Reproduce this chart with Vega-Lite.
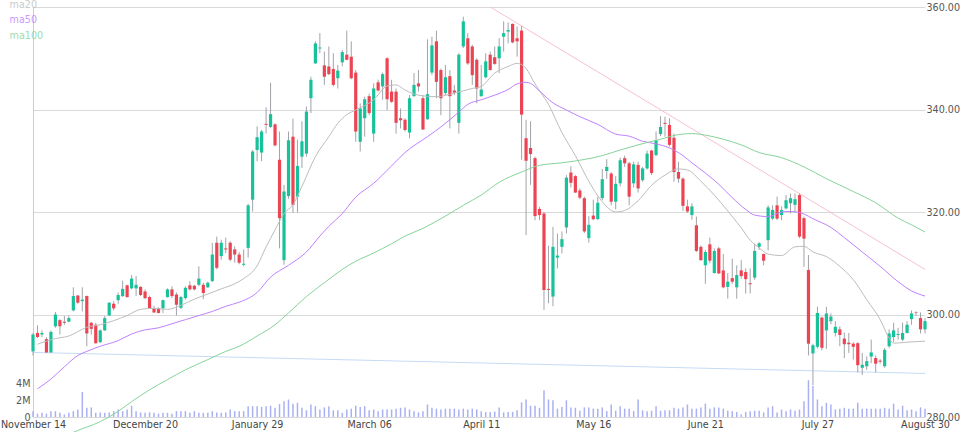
{
"$schema":"https://vega.github.io/schema/vega-lite/v6.json",
"width":892,"height":410,
"autosize":{"type":"none"},
"padding":{"left":33,"top":7,"right":35,"bottom":15},
"background":"white",
"config":{"view":{"stroke":null},"axis":{"labelFont":"DejaVu Sans","labelFontSize":9.6,"labelColor":"#555555"},"legend":{"labelFont":"DejaVu Sans"}},
"datasets":{
"k":[
{"d":"2017-11-14","o":292.8,"h":296.4,"l":292.0,"c":296.1,"v":680000},
{"d":"2017-11-15","o":296.4,"h":297.9,"l":295.4,"c":295.6,"v":400000},
{"d":"2017-11-16","o":296.1,"h":296.9,"l":295.6,"c":296.4,"v":500000},
{"d":"2017-11-17","o":295.2,"h":295.6,"l":292.5,"c":292.6,"v":400000},
{"d":"2017-11-20","o":292.6,"h":296.9,"l":292.5,"c":296.6,"v":700000},
{"d":"2017-11-21","o":297.7,"h":300.5,"l":297.4,"c":300.0,"v":700000},
{"d":"2017-11-22","o":298.9,"h":299.1,"l":296.1,"c":297.7,"v":500000},
{"d":"2017-11-24","o":298.6,"h":299.7,"l":298.0,"c":298.4,"v":300000},
{"d":"2017-11-27","o":298.6,"h":299.8,"l":298.5,"c":299.3,"v":500000},
{"d":"2017-11-28","o":300.8,"h":305.3,"l":300.6,"c":303.6,"v":700000},
{"d":"2017-11-29","o":303.7,"h":303.8,"l":302.1,"c":302.3,"v":900000},
{"d":"2017-11-30","o":302.6,"h":305.3,"l":300.6,"c":302.9,"v":3000000},
{"d":"2017-12-01","o":303.6,"h":303.7,"l":293.8,"c":296.3,"v":1100000},
{"d":"2017-12-04","o":298.4,"h":298.5,"l":296.1,"c":297.2,"v":1150000},
{"d":"2017-12-05","o":298.0,"h":298.4,"l":294.3,"c":294.4,"v":500000},
{"d":"2017-12-06","o":294.6,"h":297.1,"l":294.4,"c":296.9,"v":550000},
{"d":"2017-12-07","o":296.9,"h":299.7,"l":296.8,"c":299.3,"v":500000},
{"d":"2017-12-08","o":299.8,"h":302.4,"l":299.7,"c":302.3,"v":550000},
{"d":"2017-12-11","o":302.1,"h":302.6,"l":300.8,"c":301.2,"v":700000},
{"d":"2017-12-12","o":302.8,"h":304.3,"l":302.1,"c":303.8,"v":900000},
{"d":"2017-12-13","o":303.6,"h":306.6,"l":303.4,"c":305.0,"v":700000},
{"d":"2017-12-14","o":305.7,"h":305.8,"l":303.3,"c":303.4,"v":900000},
{"d":"2017-12-15","o":305.1,"h":307.7,"l":304.9,"c":307.0,"v":1350000},
{"d":"2017-12-18","o":305.1,"h":307.5,"l":303.6,"c":305.8,"v":700000},
{"d":"2017-12-19","o":305.4,"h":305.5,"l":303.6,"c":303.8,"v":550000},
{"d":"2017-12-20","o":304.5,"h":304.9,"l":303.0,"c":303.2,"v":500000},
{"d":"2017-12-21","o":303.4,"h":303.7,"l":301.1,"c":301.2,"v":550000},
{"d":"2017-12-22","o":301.2,"h":301.7,"l":300.3,"c":300.4,"v":500000},
{"d":"2017-12-26","o":301.2,"h":301.4,"l":300.2,"c":300.3,"v":400000},
{"d":"2017-12-27","o":301.2,"h":302.9,"l":300.3,"c":302.8,"v":500000},
{"d":"2017-12-28","o":303.4,"h":305.1,"l":303.3,"c":304.9,"v":500000},
{"d":"2017-12-29","o":304.9,"h":305.5,"l":303.2,"c":303.6,"v":400000},
{"d":"2018-01-02","o":303.9,"h":304.3,"l":299.8,"c":301.9,"v":700000},
{"d":"2018-01-03","o":301.3,"h":303.6,"l":301.1,"c":303.4,"v":700000},
{"d":"2018-01-04","o":303.2,"h":305.5,"l":302.9,"c":305.2,"v":700000},
{"d":"2018-01-05","o":305.7,"h":306.5,"l":304.7,"c":304.9,"v":500000},
{"d":"2018-01-08","o":305.6,"h":305.8,"l":304.7,"c":304.9,"v":700000},
{"d":"2018-01-09","o":305.8,"h":309.4,"l":305.5,"c":307.0,"v":500000},
{"d":"2018-01-10","o":305.8,"h":306.2,"l":303.0,"c":304.2,"v":500000},
{"d":"2018-01-11","o":305.3,"h":306.4,"l":305.2,"c":306.2,"v":500000},
{"d":"2018-01-12","o":306.5,"h":314.0,"l":306.4,"c":311.7,"v":700000},
{"d":"2018-01-16","o":314.0,"h":315.2,"l":308.8,"c":309.1,"v":550000},
{"d":"2018-01-17","o":311.4,"h":314.6,"l":310.7,"c":314.0,"v":500000},
{"d":"2018-01-18","o":312.9,"h":315.0,"l":312.0,"c":312.7,"v":550000},
{"d":"2018-01-19","o":314.0,"h":314.3,"l":310.4,"c":310.7,"v":900000},
{"d":"2018-01-22","o":312.7,"h":313.3,"l":310.1,"c":311.7,"v":700000},
{"d":"2018-01-23","o":311.7,"h":312.2,"l":309.8,"c":310.1,"v":700000},
{"d":"2018-01-24","o":309.7,"h":312.7,"l":309.4,"c":309.9,"v":700000},
{"d":"2018-01-25","o":313.0,"h":321.6,"l":311.1,"c":321.3,"v":1300000},
{"d":"2018-01-26","o":322.4,"h":332.1,"l":320.1,"c":331.8,"v":1300000},
{"d":"2018-01-29","o":332.1,"h":336.7,"l":329.9,"c":334.6,"v":1300000},
{"d":"2018-01-30","o":331.6,"h":336.0,"l":329.9,"c":335.7,"v":1200000},
{"d":"2018-01-31","o":337.2,"h":340.4,"l":335.3,"c":337.0,"v":1300000},
{"d":"2018-02-01","o":336.6,"h":345.2,"l":336.4,"c":339.1,"v":1350000},
{"d":"2018-02-02","o":337.1,"h":337.3,"l":332.8,"c":333.0,"v":1100000},
{"d":"2018-02-05","o":330.2,"h":335.7,"l":312.9,"c":318.8,"v":1550000},
{"d":"2018-02-06","o":310.6,"h":325.3,"l":309.7,"c":324.0,"v":1900000},
{"d":"2018-02-07","o":323.1,"h":335.7,"l":322.6,"c":334.0,"v":2100000},
{"d":"2018-02-08","o":334.7,"h":338.2,"l":319.8,"c":321.4,"v":1600000},
{"d":"2018-02-09","o":323.0,"h":334.1,"l":319.9,"c":329.0,"v":1700000},
{"d":"2018-02-12","o":330.8,"h":337.7,"l":328.6,"c":333.8,"v":1100000},
{"d":"2018-02-13","o":331.4,"h":340.6,"l":330.8,"c":339.6,"v":800000},
{"d":"2018-02-14","o":342.2,"h":346.4,"l":339.3,"c":345.8,"v":1500000},
{"d":"2018-02-15","o":349.0,"h":353.3,"l":348.9,"c":352.9,"v":1300000},
{"d":"2018-02-16","o":351.9,"h":354.9,"l":351.0,"c":352.1,"v":900000},
{"d":"2018-02-20","o":348.6,"h":351.3,"l":344.8,"c":346.4,"v":1150000},
{"d":"2018-02-21","o":348.4,"h":352.3,"l":346.7,"c":346.9,"v":1300000},
{"d":"2018-02-22","o":347.9,"h":351.0,"l":344.5,"c":344.8,"v":800000},
{"d":"2018-02-23","o":346.1,"h":348.7,"l":344.1,"c":347.6,"v":800000},
{"d":"2018-02-26","o":349.2,"h":351.6,"l":348.4,"c":351.2,"v":500000},
{"d":"2018-02-27","o":350.7,"h":355.4,"l":349.6,"c":349.7,"v":900000},
{"d":"2018-02-28","o":350.3,"h":353.3,"l":345.9,"c":346.1,"v":1000000},
{"d":"2018-03-01","o":347.2,"h":347.7,"l":333.7,"c":335.7,"v":1350000},
{"d":"2018-03-02","o":333.7,"h":341.2,"l":331.8,"c":340.2,"v":1200000},
{"d":"2018-03-05","o":338.3,"h":342.5,"l":334.7,"c":342.0,"v":1300000},
{"d":"2018-03-06","o":342.6,"h":343.1,"l":338.9,"c":339.3,"v":800000},
{"d":"2018-03-07","o":335.3,"h":345.1,"l":333.7,"c":344.1,"v":900000},
{"d":"2018-03-08","o":345.3,"h":345.8,"l":343.5,"c":343.7,"v":700000},
{"d":"2018-03-09","o":344.5,"h":347.2,"l":341.9,"c":346.9,"v":900000},
{"d":"2018-03-12","o":350.0,"h":350.2,"l":339.9,"c":342.0,"v":900000},
{"d":"2018-03-13","o":343.5,"h":345.8,"l":341.3,"c":341.5,"v":900000},
{"d":"2018-03-14","o":343.5,"h":344.1,"l":335.3,"c":337.4,"v":1000000},
{"d":"2018-03-15","o":338.3,"h":340.2,"l":336.3,"c":337.9,"v":1100000},
{"d":"2018-03-16","o":338.0,"h":338.3,"l":335.7,"c":336.0,"v":1150000},
{"d":"2018-03-19","o":335.5,"h":342.8,"l":334.4,"c":342.2,"v":900000},
{"d":"2018-03-20","o":342.6,"h":347.1,"l":342.5,"c":344.8,"v":700000},
{"d":"2018-03-21","o":345.1,"h":347.7,"l":343.5,"c":344.5,"v":550000},
{"d":"2018-03-22","o":342.2,"h":342.8,"l":336.0,"c":336.1,"v":700000},
{"d":"2018-03-23","o":338.1,"h":353.7,"l":338.0,"c":343.0,"v":1500000},
{"d":"2018-03-26","o":347.2,"h":354.2,"l":346.7,"c":352.5,"v":1100000},
{"d":"2018-03-27","o":353.3,"h":355.4,"l":342.2,"c":345.4,"v":1000000},
{"d":"2018-03-28","o":347.7,"h":348.0,"l":338.9,"c":342.2,"v":900000},
{"d":"2018-03-29","o":343.2,"h":348.7,"l":342.8,"c":346.3,"v":1000000},
{"d":"2018-04-02","o":346.5,"h":347.7,"l":336.3,"c":342.6,"v":1000000},
{"d":"2018-04-03","o":343.7,"h":344.8,"l":342.8,"c":343.3,"v":1000000},
{"d":"2018-04-04","o":337.4,"h":351.0,"l":335.3,"c":350.7,"v":900000},
{"d":"2018-04-05","o":352.3,"h":358.1,"l":352.0,"c":357.2,"v":1000000},
{"d":"2018-04-06","o":353.9,"h":354.9,"l":348.7,"c":349.0,"v":900000},
{"d":"2018-04-09","o":352.3,"h":352.6,"l":344.8,"c":346.7,"v":1000000},
{"d":"2018-04-10","o":349.7,"h":350.0,"l":341.2,"c":344.1,"v":900000},
{"d":"2018-04-11","o":342.6,"h":348.7,"l":342.5,"c":343.9,"v":700000},
{"d":"2018-04-12","o":346.3,"h":351.0,"l":346.1,"c":349.4,"v":600000},
{"d":"2018-04-13","o":350.7,"h":351.3,"l":347.6,"c":347.7,"v":600000},
{"d":"2018-04-16","o":350.2,"h":352.3,"l":348.7,"c":348.9,"v":650000},
{"d":"2018-04-17","o":350.0,"h":353.9,"l":347.1,"c":352.3,"v":1150000},
{"d":"2018-04-18","o":354.2,"h":357.2,"l":351.3,"c":354.9,"v":550000},
{"d":"2018-04-19","o":355.2,"h":357.0,"l":352.9,"c":355.5,"v":600000},
{"d":"2018-04-20","o":356.7,"h":356.8,"l":352.9,"c":353.1,"v":600000},
{"d":"2018-04-23","o":353.9,"h":356.2,"l":350.3,"c":353.3,"v":800000},
{"d":"2018-04-24","o":355.4,"h":356.3,"l":330.2,"c":339.0,"v":1750000},
{"d":"2018-04-25","o":334.4,"h":338.0,"l":315.5,"c":330.0,"v":2100000},
{"d":"2018-04-26","o":332.5,"h":337.7,"l":325.3,"c":331.3,"v":1350000},
{"d":"2018-04-27","o":330.5,"h":330.8,"l":318.4,"c":319.2,"v":1350000},
{"d":"2018-04-30","o":320.6,"h":321.0,"l":318.4,"c":319.4,"v":1100000},
{"d":"2018-05-01","o":319.7,"h":320.0,"l":300.9,"c":304.8,"v":3200000},
{"d":"2018-05-02","o":305.0,"h":313.4,"l":302.2,"c":304.8,"v":2100000},
{"d":"2018-05-03","o":303.5,"h":317.1,"l":301.6,"c":313.2,"v":2000000},
{"d":"2018-05-04","o":311.1,"h":315.8,"l":309.0,"c":311.5,"v":1000000},
{"d":"2018-05-07","o":313.2,"h":316.2,"l":311.9,"c":314.7,"v":1200000},
{"d":"2018-05-08","o":317.0,"h":327.2,"l":315.8,"c":326.7,"v":2000000},
{"d":"2018-05-09","o":327.7,"h":328.9,"l":324.8,"c":325.7,"v":1150000},
{"d":"2018-05-10","o":327.0,"h":327.2,"l":323.7,"c":323.8,"v":1100000},
{"d":"2018-05-11","o":324.2,"h":324.6,"l":322.5,"c":322.8,"v":750000},
{"d":"2018-05-14","o":322.7,"h":323.0,"l":315.9,"c":316.2,"v":1150000},
{"d":"2018-05-15","o":314.9,"h":319.2,"l":314.0,"c":317.5,"v":1150000},
{"d":"2018-05-16","o":319.3,"h":322.4,"l":318.4,"c":318.6,"v":1000000},
{"d":"2018-05-17","o":318.6,"h":323.0,"l":318.5,"c":321.8,"v":1000000},
{"d":"2018-05-18","o":322.7,"h":328.4,"l":322.3,"c":326.4,"v":1150000},
{"d":"2018-05-21","o":328.0,"h":330.3,"l":326.5,"c":328.8,"v":700000},
{"d":"2018-05-22","o":327.5,"h":327.8,"l":321.3,"c":322.0,"v":1500000},
{"d":"2018-05-23","o":322.0,"h":327.0,"l":320.5,"c":325.5,"v":750000},
{"d":"2018-05-24","o":325.6,"h":330.6,"l":325.0,"c":330.1,"v":1300000},
{"d":"2018-05-25","o":330.5,"h":331.0,"l":328.8,"c":329.5,"v":1000000},
{"d":"2018-05-29","o":329.5,"h":329.8,"l":321.3,"c":323.0,"v":1000000},
{"d":"2018-05-30","o":325.6,"h":329.8,"l":324.8,"c":329.3,"v":700000},
{"d":"2018-05-31","o":329.2,"h":329.8,"l":323.8,"c":324.6,"v":2100000},
{"d":"2018-06-01","o":326.2,"h":328.8,"l":325.9,"c":328.5,"v":800000},
{"d":"2018-06-04","o":328.5,"h":332.0,"l":328.3,"c":331.4,"v":700000},
{"d":"2018-06-05","o":332.0,"h":332.1,"l":327.2,"c":327.6,"v":750000},
{"d":"2018-06-06","o":331.1,"h":335.7,"l":330.9,"c":334.0,"v":1300000},
{"d":"2018-06-07","o":335.2,"h":338.7,"l":334.8,"c":336.6,"v":750000},
{"d":"2018-06-08","o":337.4,"h":338.6,"l":334.7,"c":337.2,"v":800000},
{"d":"2018-06-11","o":337.0,"h":338.3,"l":332.8,"c":333.1,"v":800000},
{"d":"2018-06-12","o":334.5,"h":335.3,"l":325.9,"c":327.8,"v":1100000},
{"d":"2018-06-13","o":327.8,"h":329.8,"l":325.7,"c":326.5,"v":1000000},
{"d":"2018-06-14","o":326.5,"h":326.8,"l":320.2,"c":321.2,"v":1150000},
{"d":"2018-06-15","o":321.1,"h":322.4,"l":319.8,"c":320.1,"v":1500000},
{"d":"2018-06-18","o":319.4,"h":321.7,"l":318.5,"c":321.1,"v":1000000},
{"d":"2018-06-19","o":317.4,"h":319.1,"l":312.2,"c":312.4,"v":1000000},
{"d":"2018-06-20","o":313.2,"h":313.5,"l":310.5,"c":310.6,"v":1150000},
{"d":"2018-06-21","o":309.6,"h":312.6,"l":306.0,"c":312.2,"v":1600000},
{"d":"2018-06-22","o":313.7,"h":315.0,"l":310.0,"c":310.5,"v":1000000},
{"d":"2018-06-25","o":308.1,"h":312.9,"l":308.0,"c":312.4,"v":1150000},
{"d":"2018-06-26","o":312.9,"h":313.2,"l":307.9,"c":308.0,"v":1150000},
{"d":"2018-06-27","o":308.6,"h":311.8,"l":305.1,"c":305.3,"v":1000000},
{"d":"2018-06-28","o":305.4,"h":308.1,"l":303.1,"c":306.4,"v":750000},
{"d":"2018-06-29","o":307.1,"h":310.9,"l":306.0,"c":306.4,"v":700000},
{"d":"2018-07-02","o":305.3,"h":309.6,"l":303.1,"c":307.7,"v":600000},
{"d":"2018-07-03","o":308.6,"h":310.6,"l":307.0,"c":307.5,"v":300000},
{"d":"2018-07-05","o":308.3,"h":309.0,"l":304.1,"c":306.9,"v":600000},
{"d":"2018-07-06","o":306.1,"h":309.0,"l":304.1,"c":305.9,"v":700000},
{"d":"2018-07-09","o":307.2,"h":313.8,"l":306.7,"c":312.4,"v":750000},
{"d":"2018-07-10","o":313.2,"h":314.1,"l":312.6,"c":313.9,"v":750000},
{"d":"2018-07-11","o":311.8,"h":311.9,"l":309.6,"c":310.5,"v":550000},
{"d":"2018-07-12","o":314.5,"h":321.3,"l":312.5,"c":320.9,"v":1150000},
{"d":"2018-07-13","o":318.7,"h":321.3,"l":318.4,"c":320.4,"v":1300000},
{"d":"2018-07-16","o":321.3,"h":323.0,"l":318.4,"c":318.7,"v":550000},
{"d":"2018-07-17","o":319.4,"h":321.1,"l":318.4,"c":320.4,"v":900000},
{"d":"2018-07-18","o":320.7,"h":323.3,"l":320.5,"c":322.3,"v":700000},
{"d":"2018-07-19","o":321.7,"h":323.6,"l":319.7,"c":322.7,"v":900000},
{"d":"2018-07-20","o":321.4,"h":323.6,"l":319.9,"c":322.5,"v":750000},
{"d":"2018-07-23","o":323.3,"h":323.6,"l":314.9,"c":315.2,"v":900000},
{"d":"2018-07-24","o":318.8,"h":319.1,"l":309.3,"c":314.8,"v":1900000},
{"d":"2018-07-25","o":308.7,"h":311.6,"l":292.0,"c":294.3,"v":4400000},
{"d":"2018-07-26","o":292.4,"h":294.3,"l":286.2,"c":294.0,"v":3700000},
{"d":"2018-07-27","o":293.7,"h":301.5,"l":293.4,"c":300.3,"v":2100000},
{"d":"2018-07-30","o":299.4,"h":299.6,"l":293.0,"c":293.5,"v":1300000},
{"d":"2018-07-31","o":296.9,"h":301.5,"l":293.3,"c":300.2,"v":1700000},
{"d":"2018-08-01","o":298.7,"h":300.2,"l":298.1,"c":299.6,"v":1500000},
{"d":"2018-08-02","o":296.4,"h":298.7,"l":295.7,"c":297.6,"v":900000},
{"d":"2018-08-03","o":297.1,"h":297.7,"l":293.8,"c":296.0,"v":1000000},
{"d":"2018-08-06","o":295.3,"h":296.5,"l":291.5,"c":294.2,"v":1100000},
{"d":"2018-08-07","o":294.5,"h":296.4,"l":292.5,"c":294.2,"v":1000000},
{"d":"2018-08-08","o":294.3,"h":294.6,"l":291.2,"c":293.7,"v":1000000},
{"d":"2018-08-09","o":294.4,"h":294.6,"l":288.7,"c":290.1,"v":1700000},
{"d":"2018-08-10","o":289.6,"h":292.5,"l":288.2,"c":290.2,"v":1000000},
{"d":"2018-08-13","o":289.9,"h":291.8,"l":289.2,"c":290.9,"v":1000000},
{"d":"2018-08-14","o":291.8,"h":295.1,"l":290.5,"c":292.6,"v":1000000},
{"d":"2018-08-15","o":291.5,"h":292.0,"l":288.7,"c":290.4,"v":1000000},
{"d":"2018-08-16","o":291.0,"h":291.3,"l":290.4,"c":290.8,"v":1000000},
{"d":"2018-08-17","o":289.9,"h":293.5,"l":289.6,"c":293.1,"v":1100000},
{"d":"2018-08-20","o":293.8,"h":297.1,"l":293.5,"c":296.3,"v":1000000},
{"d":"2018-08-21","o":295.6,"h":298.4,"l":294.6,"c":296.9,"v":1600000},
{"d":"2018-08-22","o":296.0,"h":297.4,"l":295.1,"c":296.2,"v":900000},
{"d":"2018-08-23","o":295.1,"h":298.4,"l":294.8,"c":296.4,"v":1350000},
{"d":"2018-08-24","o":296.4,"h":298.7,"l":296.3,"c":298.0,"v":800000},
{"d":"2018-08-27","o":299.1,"h":300.8,"l":298.0,"c":300.2,"v":900000},
{"d":"2018-08-28","o":300.4,"h":300.6,"l":299.7,"c":300.3,"v":700000},
{"d":"2018-08-29","o":299.3,"h":300.4,"l":296.3,"c":297.1,"v":1150000},
{"d":"2018-08-30","o":297.1,"h":299.3,"l":296.3,"c":298.7,"v":1000000}
],
"ma":[
{"d":"2017-11-15","s":"ma20","v":294.2},{"d":"2017-11-21","s":"ma20","v":295.3},{"d":"2017-11-27","s":"ma20","v":295.8},{"d":"2017-12-01","s":"ma20","v":297.5},{"d":"2017-12-06","s":"ma20","v":298.0},{"d":"2017-12-11","s":"ma20","v":298.8},{"d":"2017-12-14","s":"ma20","v":299.8},{"d":"2017-12-19","s":"ma20","v":301.0},{"d":"2017-12-22","s":"ma20","v":301.2},{"d":"2017-12-28","s":"ma20","v":301.0},{"d":"2018-01-03","s":"ma20","v":301.8},{"d":"2018-01-08","s":"ma20","v":303.0},{"d":"2018-01-11","s":"ma20","v":304.0},{"d":"2018-01-17","s":"ma20","v":305.0},{"d":"2018-01-22","s":"ma20","v":306.0},{"d":"2018-01-24","s":"ma20","v":307.0},{"d":"2018-01-29","s":"ma20","v":309.5},{"d":"2018-01-31","s":"ma20","v":313.2},{"d":"2018-02-02","s":"ma20","v":316.5},{"d":"2018-02-06","s":"ma20","v":319.7},{"d":"2018-02-08","s":"ma20","v":321.4},{"d":"2018-02-12","s":"ma20","v":325.0},{"d":"2018-02-15","s":"ma20","v":330.8},{"d":"2018-02-21","s":"ma20","v":334.7},{"d":"2018-02-23","s":"ma20","v":337.3},{"d":"2018-02-27","s":"ma20","v":339.0},{"d":"2018-03-01","s":"ma20","v":339.9},{"d":"2018-03-07","s":"ma20","v":341.9},{"d":"2018-03-12","s":"ma20","v":344.6},{"d":"2018-03-14","s":"ma20","v":344.8},{"d":"2018-03-16","s":"ma20","v":343.8},{"d":"2018-03-21","s":"ma20","v":342.8},{"d":"2018-03-27","s":"ma20","v":342.5},{"d":"2018-04-03","s":"ma20","v":343.2},{"d":"2018-04-09","s":"ma20","v":344.1},{"d":"2018-04-11","s":"ma20","v":344.5},{"d":"2018-04-16","s":"ma20","v":347.1},{"d":"2018-04-19","s":"ma20","v":348.4},{"d":"2018-04-23","s":"ma20","v":349.0},{"d":"2018-04-25","s":"ma20","v":348.0},{"d":"2018-04-27","s":"ma20","v":345.0},{"d":"2018-05-02","s":"ma20","v":341.0},{"d":"2018-05-07","s":"ma20","v":335.5},{"d":"2018-05-10","s":"ma20","v":331.0},{"d":"2018-05-15","s":"ma20","v":326.0},{"d":"2018-05-18","s":"ma20","v":322.0},{"d":"2018-05-23","s":"ma20","v":320.0},{"d":"2018-05-25","s":"ma20","v":320.3},{"d":"2018-05-31","s":"ma20","v":322.2},{"d":"2018-06-05","s":"ma20","v":325.2},{"d":"2018-06-08","s":"ma20","v":327.2},{"d":"2018-06-13","s":"ma20","v":328.4},{"d":"2018-06-15","s":"ma20","v":328.2},{"d":"2018-06-20","s":"ma20","v":326.0},{"d":"2018-06-25","s":"ma20","v":323.3},{"d":"2018-06-28","s":"ma20","v":320.2},{"d":"2018-07-03","s":"ma20","v":316.9},{"d":"2018-07-06","s":"ma20","v":314.5},{"d":"2018-07-10","s":"ma20","v":313.0},{"d":"2018-07-12","s":"ma20","v":311.8},{"d":"2018-07-17","s":"ma20","v":311.5},{"d":"2018-07-20","s":"ma20","v":313.2},{"d":"2018-07-24","s":"ma20","v":313.3},{"d":"2018-07-26","s":"ma20","v":312.2},{"d":"2018-07-31","s":"ma20","v":311.3},{"d":"2018-08-03","s":"ma20","v":309.4},{"d":"2018-08-08","s":"ma20","v":306.8},{"d":"2018-08-13","s":"ma20","v":302.9},{"d":"2018-08-16","s":"ma20","v":299.0},{"d":"2018-08-20","s":"ma20","v":295.4},{"d":"2018-08-21","s":"ma20","v":294.4},{"d":"2018-08-24","s":"ma20","v":294.6},{"d":"2018-08-30","s":"ma20","v":294.8},
{"d":"2017-11-15","s":"ma50","v":285.5},{"d":"2017-11-20","s":"ma50","v":287.4},{"d":"2017-11-24","s":"ma50","v":289.8},{"d":"2017-11-29","s":"ma50","v":292.0},{"d":"2017-12-01","s":"ma50","v":292.8},{"d":"2017-12-06","s":"ma50","v":293.8},{"d":"2017-12-12","s":"ma50","v":294.9},{"d":"2017-12-15","s":"ma50","v":296.2},{"d":"2017-12-20","s":"ma50","v":297.0},{"d":"2017-12-26","s":"ma50","v":297.4},{"d":"2017-12-29","s":"ma50","v":298.2},{"d":"2018-01-04","s":"ma50","v":299.0},{"d":"2018-01-09","s":"ma50","v":299.8},{"d":"2018-01-12","s":"ma50","v":300.6},{"d":"2018-01-18","s":"ma50","v":301.6},{"d":"2018-01-23","s":"ma50","v":302.4},{"d":"2018-01-29","s":"ma50","v":304.3},{"d":"2018-02-01","s":"ma50","v":307.3},{"d":"2018-02-07","s":"ma50","v":309.6},{"d":"2018-02-13","s":"ma50","v":312.2},{"d":"2018-02-16","s":"ma50","v":315.3},{"d":"2018-02-21","s":"ma50","v":317.2},{"d":"2018-02-26","s":"ma50","v":319.7},{"d":"2018-03-01","s":"ma50","v":322.9},{"d":"2018-03-07","s":"ma50","v":325.6},{"d":"2018-03-13","s":"ma50","v":329.0},{"d":"2018-03-16","s":"ma50","v":331.6},{"d":"2018-03-23","s":"ma50","v":334.7},{"d":"2018-03-28","s":"ma50","v":336.6},{"d":"2018-04-04","s":"ma50","v":339.5},{"d":"2018-04-06","s":"ma50","v":341.0},{"d":"2018-04-11","s":"ma50","v":341.9},{"d":"2018-04-16","s":"ma50","v":342.8},{"d":"2018-04-19","s":"ma50","v":343.9},{"d":"2018-04-23","s":"ma50","v":345.0},{"d":"2018-04-25","s":"ma50","v":345.3},{"d":"2018-04-26","s":"ma50","v":345.1},{"d":"2018-04-30","s":"ma50","v":343.6},{"d":"2018-05-03","s":"ma50","v":341.3},{"d":"2018-05-08","s":"ma50","v":339.9},{"d":"2018-05-11","s":"ma50","v":338.6},{"d":"2018-05-17","s":"ma50","v":337.1},{"d":"2018-05-23","s":"ma50","v":335.2},{"d":"2018-05-29","s":"ma50","v":334.8},{"d":"2018-06-01","s":"ma50","v":333.8},{"d":"2018-06-06","s":"ma50","v":333.3},{"d":"2018-06-11","s":"ma50","v":332.5},{"d":"2018-06-14","s":"ma50","v":331.0},{"d":"2018-06-18","s":"ma50","v":329.6},{"d":"2018-06-21","s":"ma50","v":327.6},{"d":"2018-06-26","s":"ma50","v":325.4},{"d":"2018-06-29","s":"ma50","v":322.8},{"d":"2018-07-05","s":"ma50","v":320.5},{"d":"2018-07-09","s":"ma50","v":319.4},{"d":"2018-07-12","s":"ma50","v":319.1},{"d":"2018-07-17","s":"ma50","v":320.0},{"d":"2018-07-19","s":"ma50","v":320.1},{"d":"2018-07-24","s":"ma50","v":319.6},{"d":"2018-07-26","s":"ma50","v":318.7},{"d":"2018-08-01","s":"ma50","v":317.0},{"d":"2018-08-06","s":"ma50","v":315.0},{"d":"2018-08-10","s":"ma50","v":312.2},{"d":"2018-08-16","s":"ma50","v":309.4},{"d":"2018-08-22","s":"ma50","v":306.4},{"d":"2018-08-27","s":"ma50","v":304.6},{"d":"2018-08-30","s":"ma50","v":303.6},
{"d":"2017-11-14","s":"ma100","v":273.2},{"d":"2017-11-21","s":"ma100","v":275.2},{"d":"2017-11-28","s":"ma100","v":277.0},{"d":"2017-12-06","s":"ma100","v":279.1},{"d":"2017-12-12","s":"ma100","v":281.1},{"d":"2017-12-15","s":"ma100","v":283.0},{"d":"2017-12-21","s":"ma100","v":285.3},{"d":"2017-12-28","s":"ma100","v":287.3},{"d":"2018-01-04","s":"ma100","v":289.2},{"d":"2018-01-11","s":"ma100","v":291.2},{"d":"2018-01-18","s":"ma100","v":292.8},{"d":"2018-01-23","s":"ma100","v":293.8},{"d":"2018-01-29","s":"ma100","v":295.8},{"d":"2018-02-02","s":"ma100","v":298.0},{"d":"2018-02-07","s":"ma100","v":300.3},{"d":"2018-02-13","s":"ma100","v":303.5},{"d":"2018-02-20","s":"ma100","v":306.2},{"d":"2018-02-26","s":"ma100","v":308.8},{"d":"2018-03-01","s":"ma100","v":310.4},{"d":"2018-03-07","s":"ma100","v":312.0},{"d":"2018-03-13","s":"ma100","v":313.8},{"d":"2018-03-16","s":"ma100","v":315.3},{"d":"2018-03-22","s":"ma100","v":316.8},{"d":"2018-03-29","s":"ma100","v":319.2},{"d":"2018-04-05","s":"ma100","v":321.3},{"d":"2018-04-11","s":"ma100","v":323.3},{"d":"2018-04-17","s":"ma100","v":325.8},{"d":"2018-04-24","s":"ma100","v":327.8},{"d":"2018-04-30","s":"ma100","v":329.1},{"d":"2018-05-07","s":"ma100","v":329.6},{"d":"2018-05-11","s":"ma100","v":330.1},{"d":"2018-05-18","s":"ma100","v":331.0},{"d":"2018-05-24","s":"ma100","v":332.1},{"d":"2018-05-31","s":"ma100","v":333.1},{"d":"2018-06-07","s":"ma100","v":334.2},{"d":"2018-06-13","s":"ma100","v":335.1},{"d":"2018-06-18","s":"ma100","v":335.3},{"d":"2018-06-21","s":"ma100","v":335.0},{"d":"2018-06-27","s":"ma100","v":334.2},{"d":"2018-07-03","s":"ma100","v":333.1},{"d":"2018-07-10","s":"ma100","v":331.6},{"d":"2018-07-17","s":"ma100","v":330.6},{"d":"2018-07-24","s":"ma100","v":328.8},{"d":"2018-07-31","s":"ma100","v":326.5},{"d":"2018-08-08","s":"ma100","v":324.0},{"d":"2018-08-15","s":"ma100","v":321.8},{"d":"2018-08-22","s":"ma100","v":318.8},{"d":"2018-08-27","s":"ma100","v":317.5},{"d":"2018-08-30","s":"ma100","v":316.1}
],
"tl":[
{"d":"2018-04-13","s":"res","v":360.0},{"d":"2018-08-30","s":"res","v":308.8},
{"d":"2017-11-14","s":"sup","v":292.6},{"d":"2018-08-30","s":"sup","v":288.5}
]
},
"encoding":{"x":{"field":"d","type":"ordinal","scale":{"type":"point","padding":0},
 "axis":{"labelExpr":"indexof(['2017-11-14','2017-12-20','2018-01-29','2018-03-06','2018-04-11','2018-05-16','2018-06-21','2018-07-27','2018-08-30'], datum.value) >= 0 ? utcFormat(toDate(datum.value), '%B %d') : ''",
 "ticks":false,"tickSize":0,"domain":false,"grid":false,"labelPadding":2,"labelAngle":0,"labelAlign":"center","labelOverlap":false,"labelBound":false,"labelFlush":false,"labelColor":"#444444","title":null}}},
"layer":[
 {"data":{"name":"k"},"mark":{"type":"bar","width":1.5,"color":"#aab1f3"},
  "encoding":{"y":{"field":"v","type":"quantitative","scale":{"domain":[0,49100000],"nice":false,"zero":true},
   "axis":{"orient":"left","values":[0,2000000,4000000],"labelExpr":"datum.value == 0 ? '0' : format(datum.value / 1000000, 'd') + 'M'","ticks":false,"tickSize":0,"grid":false,"domain":true,"domainColor":"#cccccc","labelPadding":3,"title":null}}}},
 {"data":{"name":"tl"},"mark":{"type":"line","strokeWidth":1},
  "encoding":{"y":{"field":"v","type":"quantitative","scale":{"domain":[280,360],"nice":false,"zero":false},
    "axis":{"orient":"right","values":[280,300,320,340,360],"format":".2f","grid":true,"gridColor":"#d9d9d9","ticks":false,"tickSize":0,"domain":false,"labelPadding":1,"title":null}},
   "stroke":{"field":"s","type":"nominal","scale":{"domain":["res","sup"],"range":["#f7c1cf","#c6daf6"]},"legend":null}}},
 {"data":{"name":"k"},"mark":{"type":"rule","color":"#a0a3a8","strokeWidth":1},
  "encoding":{"y":{"field":"l","type":"quantitative","scale":{"domain":[280,360],"nice":false,"zero":false},"axis":null},"y2":{"field":"h"}}},
 {"data":{"name":"k"},"mark":{"type":"bar","width":3.2},
  "encoding":{"y":{"field":"o","type":"quantitative","scale":{"domain":[280,360],"nice":false,"zero":false},"axis":null},"y2":{"field":"c"},
   "color":{"condition":{"test":"datum.c >= datum.o","value":"#17c29b"},"value":"#ec4453"}}},
 {"data":{"name":"ma"},"mark":{"type":"line","strokeWidth":1,"interpolate":"monotone"},
  "encoding":{"y":{"field":"v","type":"quantitative","scale":{"domain":[280,360],"nice":false,"zero":false},"axis":null},
   "color":{"field":"s","type":"nominal","scale":{"domain":["ma20","ma50","ma100"],"range":["#bdbdbd","#bf80ff","#86d49a"]},
    "legend":{"orient":"none","legendX":-33,"legendY":-7,"title":null,"symbolSize":0,"symbolOpacity":0,"symbolStrokeWidth":0,"labelOffset":0,"labelFontSize":9.6,"rowPadding":4.4,"padding":0,
     "encode":{"labels":{"update":{"fill":{"scale":"color","field":"value"},"opacity":{"value":0.8}}}}}}}}
],
"resolve":{"scale":{"y":"independent"},"axis":{"y":"independent"}}
}
